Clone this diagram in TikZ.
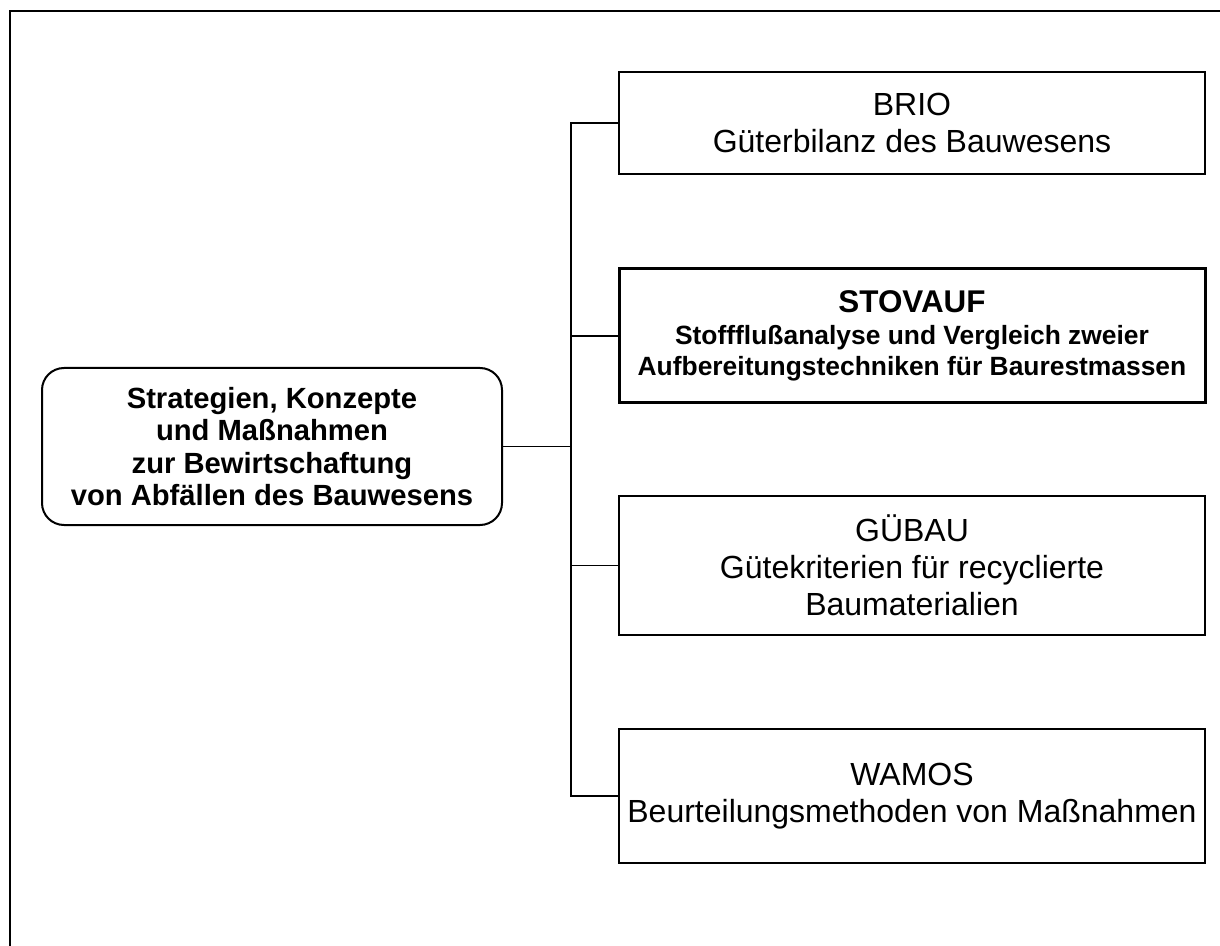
\documentclass[tikz,border=0pt]{standalone}
\usepackage{fontspec}
\setmainfont{Liberation Sans}
\begin{document}
\begin{tikzpicture}[x=0.5pt,y=-0.5pt,
  box/.style={draw, line width=1pt, minimum width=293pt, inner sep=0pt, align=center,
    font=\fontsize{16}{18.6}\selectfont},
  boldbox/.style={draw, line width=1.5pt, minimum width=293pt, inner sep=0pt, align=center,
    font=\bfseries\fontsize{13.2}{15.5}\selectfont},
  mainbox/.style={draw, line width=1pt, rounded corners=11pt, minimum width=230pt,
    minimum height=78.5pt, inner sep=0pt, align=center,
    font=\bfseries\fontsize{14.6}{16.3}\selectfont},
  conn/.style={draw, line width=0.9pt},
  frame/.style={draw, line width=1.2pt}]
\useasboundingbox (0,0) rectangle (1220,946);
\draw[frame] (10,946) -- (10,11) -- (1220,11);

\node[box, minimum height=51pt] (brio) at (912,123) {BRIO\\Güterbilanz des Bauwesens};
\node[boldbox, minimum height=67pt] (stov) at (912,336)
  {{\fontsize{15.7}{15.5}\selectfont STOVAUF}\\[0.6pt]Stoffflußanalyse und Vergleich zweier\\Aufbereitungstechniken für Baurestmassen};
\node[box, minimum height=69.5pt] (guebau) at (912,565.5) {GÜBAU\\Gütekriterien für recyclierte\\Baumaterialien};
\node[box, minimum height=67pt] (wamos) at (912,796) {WAMOS\\Beurteilungsmethoden von Maßnahmen};
\node[mainbox] (main) at (272,446.5) {Strategien, Konzepte\\und Maßnahmen\\zur Bewirtschaftung\\von Abfällen des Bauwesens};

\coordinate (bus) at (571,0);
\draw[conn] (brio.west) -| (bus |- wamos.west) -- (wamos.west);
\draw[conn] (stov.west) -- (stov.west -| bus);
\draw[conn] (guebau.west) -- (guebau.west -| bus);
\draw[conn] (main.east) -- (main.east -| bus);
\end{tikzpicture}
\end{document}
